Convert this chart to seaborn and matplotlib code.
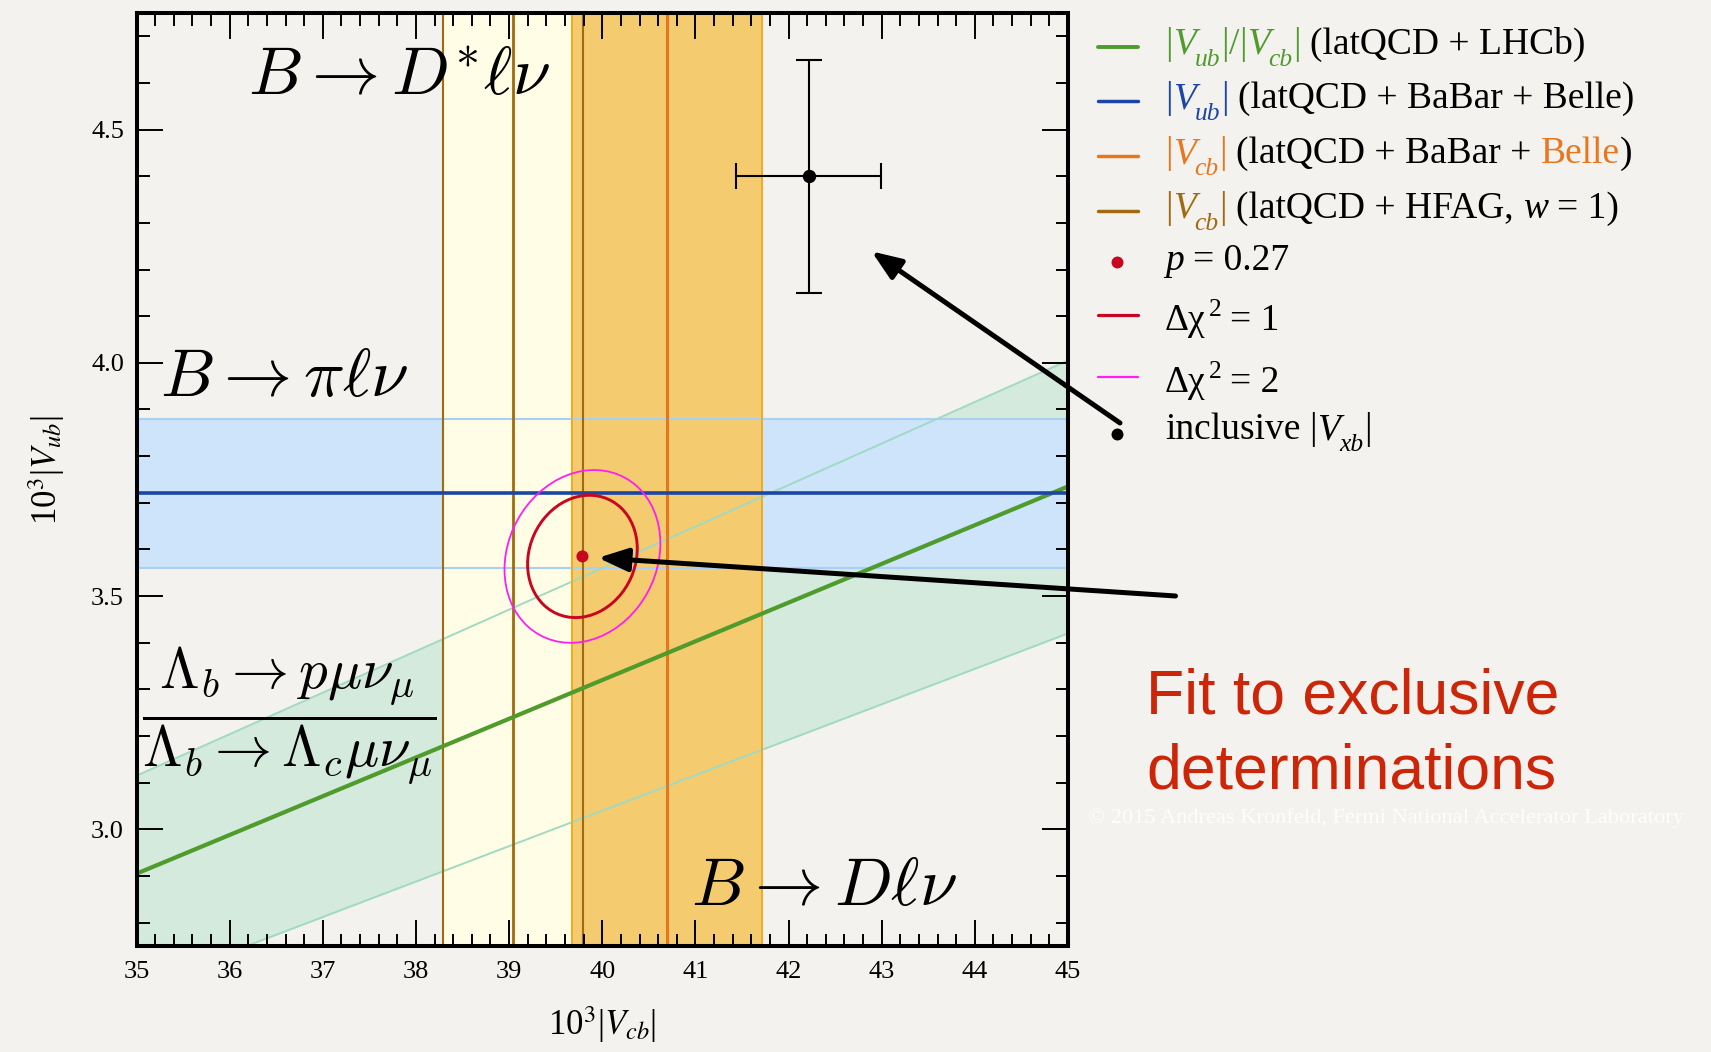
import numpy as np
import pandas as pd
import seaborn as sns
import matplotlib.pyplot as plt
from matplotlib.patches import Ellipse
from matplotlib.lines import Line2D
from matplotlib.ticker import MultipleLocator, FormatStrFormatter

# ---- values, all in units of 10^-3 ----
vcb_limits = [35.0, 45.0]
vub_limits = [2.75, 4.75]
vcb_ticks = [35, 36, 37, 38, 39, 40, 41, 42, 43, 44, 45]
vub_ticks = [3.0, 3.5, 4.0, 4.5]

# |Vub|/|Vcb| from Lambda_b decays (LHCb): low, central, high
ratio_ub_cb = [0.0760, 0.0830, 0.0890]

# |Vub| from B -> pi l nu (BaBar + Belle): low, central, high
vub_pilnu = [3.56, 3.72, 3.88]

# |Vcb| from B -> D l nu (BaBar + Belle): low, central, high
vcb_dlnu = [39.68, 40.70, 41.72]

# |Vcb| from B -> D* l nu (HFAG, w = 1): low, central, high
vcb_dstar = [38.29, 39.04, 39.79]

# combined fit: best point, contours (width, height, tilt in degrees)
fit_point = [39.787, 3.585]
contour_dchi1 = [1.178, 0.260, 1.7]
contour_dchi2 = [1.674, 0.366, 2.0]

# inclusive determinations: value, error
incl_vcb = [42.215, 0.78]
incl_vub = [4.40, 0.25]

# ---- colours ----
BG = '#f4f2ee'
GREEN, GREEN_FILL, GREEN_EDGE = '#4f9b2c', '#d3eadc', '#a0dac2'
BLUE, BLUE_FILL, BLUE_EDGE = '#1c46a6', '#cde4fb', '#a9cff3'
ORANGE, ORANGE_FILL, ORANGE_EDGE = '#e8761c', '#f5cb70', '#f0aa22'
BROWN, YELLOW_FILL = '#a06a10', '#fffde6'
RED, MAGENTA = '#c8061f', '#ff1ef0'

sns.set_theme(style='ticks')
plt.rcParams['font.family'] = ['Liberation Serif', 'DejaVu Serif']
plt.rcParams['mathtext.fontset'] = 'stix'
plt.rcParams['text.color'] = 'black'
plt.rcParams['axes.labelcolor'] = 'black'

W, H = 1711, 1052
fig = plt.figure(figsize=(W / 100, H / 100), dpi=100, facecolor=BG)
ax = fig.add_axes([0.0798, 0.1008, 0.5444, 0.8869])
ax.set_facecolor(BG)

vcb_grid = np.array(vcb_limits)
lines = pd.DataFrame({
    'vcb': vcb_grid,
    'low': ratio_ub_cb[0] * vcb_grid,
    'mid': ratio_ub_cb[1] * vcb_grid,
    'high': ratio_ub_cb[2] * vcb_grid,
})

# filled bands
ax.fill_between(lines['vcb'], lines['low'], lines['high'], color=GREEN_FILL, lw=0, zorder=1)
ax.axhspan(vub_pilnu[0], vub_pilnu[2], color=BLUE_FILL, lw=0, zorder=1.2)
ax.axvspan(vcb_dstar[0], vcb_dstar[2], color=YELLOW_FILL, lw=0, zorder=2)
ax.axvspan(vcb_dlnu[0], vcb_dlnu[2], color=ORANGE_FILL, lw=0, zorder=2.1)

# band edges
for v in (vub_pilnu[0], vub_pilnu[2]):
    ax.axhline(v, color=BLUE_EDGE, lw=1.5, zorder=3)
for col in ('low', 'high'):
    sns.lineplot(data=lines, x='vcb', y=col, color=GREEN_EDGE, lw=1.4, ax=ax, zorder=3)
for v in (vcb_dlnu[0], vcb_dlnu[2]):
    ax.axvline(v, color=ORANGE_EDGE, lw=1.4, zorder=3.1)
for v in (vcb_dstar[0], vcb_dstar[2]):
    ax.axvline(v, color=BROWN, lw=1.5, zorder=3.2)

# central values
ax.axvline(vcb_dstar[1], color=BROWN, lw=2.0, zorder=4)
ax.axvline(vcb_dlnu[1], color=ORANGE, lw=2.2, zorder=4)
sns.lineplot(data=lines, x='vcb', y='mid', color=GREEN, lw=3.0, ax=ax, zorder=4.1)
ax.axhline(vub_pilnu[1], color=BLUE, lw=2.6, zorder=4.2)

# fit contours and best point
for (w, h, ang), col, lw in ((contour_dchi2, MAGENTA, 1.3), (contour_dchi1, RED, 2.1)):
    ax.add_patch(Ellipse((fit_point[0], fit_point[1]), w, h, angle=ang,
                         fill=False, ec=col, lw=lw, zorder=5))
sns.scatterplot(x=[fit_point[0]], y=[fit_point[1]], color=RED, s=75,
                edgecolor='none', ax=ax, zorder=6)

# inclusive point
ax.errorbar(incl_vcb[0], incl_vub[0], xerr=incl_vcb[1], yerr=incl_vub[1],
            fmt='o', color='black', ms=8.6, lw=1.5, capsize=9.4, capthick=1.5, zorder=6)

# big process labels
mfs = 49
ax.text(36.20, 4.575, r'$B \to D^{*}\ell\nu$', fontsize=mfs, math_fontfamily='cm',
        color='black', ha='left', va='baseline', zorder=7)
ax.text(35.25, 3.928, r'$B \to \pi\ell\nu$', fontsize=mfs, math_fontfamily='cm',
        color='black', ha='left', va='baseline', zorder=7)
ax.text(40.95, 2.838, r'$B \to D\ell\nu$', fontsize=mfs, math_fontfamily='cm',
        color='black', ha='left', va='baseline', zorder=7)
ax.text(35.06, 3.244,
        r'$\dfrac{\Lambda_b \to p\mu\nu_\mu}{\Lambda_b \to \Lambda_c\mu\nu_\mu}$',
        fontsize=41, math_fontfamily='cm', color='black', ha='left', va='center', zorder=7)

# axes styling
ax.set_xlim(vcb_limits)
ax.set_ylim(vub_limits)
ax.set_xticks(vcb_ticks)
ax.set_yticks(vub_ticks)
ax.xaxis.set_minor_locator(MultipleLocator(0.2))
ax.yaxis.set_minor_locator(MultipleLocator(0.1))
ax.yaxis.set_major_formatter(FormatStrFormatter('%.1f'))
ax.tick_params(which='both', direction='in', top=True, right=True,
               color='black', width=1.4, labelsize=19, labelcolor='black')
ax.tick_params(which='major', length=18.7)
ax.tick_params(which='minor', length=9)
ax.tick_params(axis='x', which='major', pad=11)
ax.tick_params(axis='y', which='major', pad=9)
for sp in ax.spines.values():
    sp.set_linewidth(2.9)
    sp.set_color('black')
    sp.set_zorder(10)
ax.xaxis.set_zorder(10)
ax.yaxis.set_zorder(10)
ax.grid(False)

ax.set_xlabel(r'10$^3$|$V_{cb}$|', fontsize=25, color='black', va='top')
ax.xaxis.set_label_coords(0.5, -0.062)
ax.set_ylabel(r'10$^3$|$V_{ub}$|', fontsize=25, color='black', va='bottom')
ax.yaxis.set_label_coords(-0.075, 0.51)

# ---- legend, drawn in figure pixels ----
renderer = fig.canvas.get_renderer()
LFS = 27
SP = 9


def P(s, color='black', gap=0, dy=0, k=1.0, it=False):
    return (s, color, gap, dy, k, it)


def V(sub, color):
    # |V_sub| with a dropped italic subscript
    return [P('|', color), P('V', color, it=True), P(sub, color, gap=-1, dy=12, k=0.68, it=True),
            P('|', color, gap=1)]


def text_run(x_px, base_px, pieces):
    x = x_px
    for s, color, gap, dy, k, it in pieces:
        x += gap
        t = fig.text(x / W, 1 - (base_px + dy) / H, s, color=color, fontsize=LFS * k,
                     fontstyle='italic' if it else 'normal', ha='left', va='baseline')
        x = t.get_window_extent(renderer).x1


def handle_line(y_px, color, lw):
    fig.add_artist(Line2D([1098 / W, 1138 / W], [1 - y_px / H] * 2,
                          transform=fig.transFigure, color=color, lw=lw))


def handle_dot(y_px, color):
    fig.add_artist(Line2D([1117 / W], [1 - y_px / H], transform=fig.transFigure,
                          marker='o', ms=8.6, mec='none', mfc=color, ls='none'))


TX = 1165
handle_line(46.7, GREEN, 2.8)
text_run(TX, 53.8, V('ub', GREEN) + [P('/', GREEN)] + V('cb', GREEN)
         + [P('(latQCD + LHCb)', gap=SP)])
handle_line(101, BLUE, 2.5)
text_run(TX, 108.3, V('ub', BLUE) + [P('(latQCD + BaBar + Belle)', gap=SP)])
handle_line(156, ORANGE, 2.5)
text_run(TX, 163.1, V('cb', ORANGE) + [P('(latQCD + BaBar +', gap=SP),
                                       P('Belle', ORANGE, gap=SP), P(')')])
handle_line(210.7, BROWN, 2.5)
text_run(TX, 217.8, V('cb', BROWN) + [P('(latQCD + HFAG,', gap=SP), P('w', gap=SP, it=True),
                                      P('= 1)', gap=SP)])
handle_dot(261.7, RED)
text_run(TX, 270, [P('p', it=True), P('= 0.27', gap=SP)])
handle_line(315, RED, 2.3)
text_run(TX, 330, [P('Δχ'), P('2', gap=3, dy=-14, k=0.68), P('= 1', gap=SP)])
handle_line(376.7, MAGENTA, 1.6)
text_run(TX, 391.7, [P('Δχ'), P('2', gap=3, dy=-14, k=0.68), P('= 2', gap=SP)])
handle_dot(434.3, 'black')
text_run(TX, 439, [P('inclusive', gap=0)] + [P('', gap=SP)] + V('xb', 'black'))

# arrows from the legend area to the marks
arrow = dict(arrowstyle='-|>,head_length=1.8,head_width=0.7', lw=3.6,
             color='black', shrinkA=0, shrinkB=0, mutation_scale=10)
ax.annotate('', xy=(42.89, 4.239), xycoords='data', xytext=(1120, H - 423),
            textcoords='figure pixels', arrowprops=arrow, annotation_clip=False, zorder=11)
ax.annotate('', xy=(39.955, 3.582), xycoords='data', xytext=(1175.5, H - 596),
            textcoords='figure pixels', arrowprops=arrow, annotation_clip=False, zorder=11)

# headline
fig.text(1146 / W, 1 - 713 / H, 'Fit to exclusive', color='#cc2508', fontsize=45,
         family=['Liberation Sans', 'DejaVu Sans'], ha='left', va='baseline')
fig.text(1146 / W, 1 - 788.5 / H, 'determinations', color='#cc2508', fontsize=45,
         family=['Liberation Sans', 'DejaVu Sans'], ha='left', va='baseline')

# credit line
fig.text(1088 / W, 1 - 823 / H,
         '© 2015 Andreas Kronfeld, Fermi National Accelerator Laboratory',
         color='white', alpha=0.85, fontsize=16.1, ha='left', va='baseline')

fig.savefig('out.png', dpi=100, facecolor=BG)
